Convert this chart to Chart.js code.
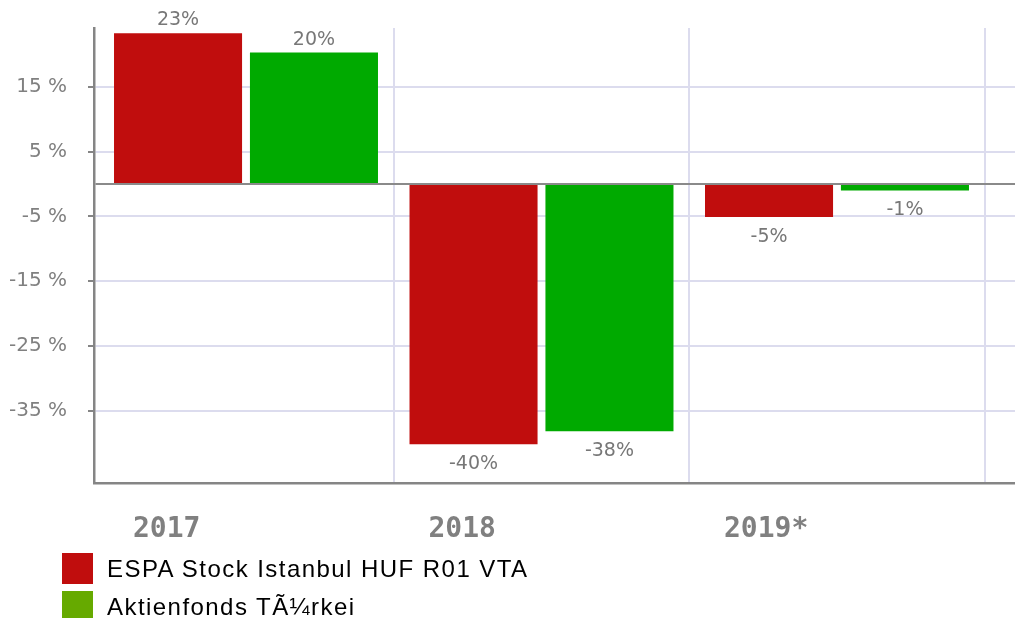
<!DOCTYPE html>
<html>
<head>
<meta charset="utf-8">
<script src="https://cdn.jsdelivr.net/npm/chart.js@4"></script>
<style>
  html, body { margin: 0; padding: 0; background: #ffffff; }
  #wrap { position: relative; width: 1015px; height: 618px; overflow: hidden; }
  #legend { position: absolute; left: 62px; top: 553px; font-family: "Liberation Sans", Arial, sans-serif; font-size: 24px; letter-spacing: 1.45px; color: #000; }
  .item { position: relative; height: 38px; }
  .box { position: absolute; left: 0; top: 0; width: 31px; height: 31px; }
  .lbl { position: absolute; left: 45px; top: 1px; line-height: 30px; white-space: nowrap; }
</style>
</head>
<body>
<div id="wrap">
  <canvas id="c" width="1015" height="618"></canvas>
  <div id="legend"></div>
</div>
<script>
const categories = ['2017', '2018', '2019*'];
const seriesNames = ['ESPA Stock Istanbul HUF R01 VTA', 'Aktienfonds T\u00C3\u00BCrkei'];
const espaValues = [23.3, -40.2, -5.1];
const turkeiValues = [20.3, -38.2, -1.0];
const yTickValues = [15, 5, -5, -15, -25, -35];
const yTickLabels = ['15 %', '5 %', '-5 %', '-15 %', '-25 %', '-35 %'];

const barColors = ['#c00d0d', '#00aa00'];
const legendColors = ['#c00d0d', '#66aa00'];

function toPoints(values) {
  return values.map((v, i) => ({ x: i, y: v }));
}

const legendEl = document.getElementById('legend');
seriesNames.forEach((name, i) => {
  const item = document.createElement('div');
  item.className = 'item';
  const box = document.createElement('div');
  box.className = 'box';
  box.style.background = legendColors[i];
  const lbl = document.createElement('div');
  lbl.className = 'lbl';
  lbl.textContent = name;
  item.appendChild(box);
  item.appendChild(lbl);
  legendEl.appendChild(item);
});

const valueLabels = {
  id: 'valueLabels',
  afterDatasetsDraw(chart) {
    const ctx = chart.ctx;
    ctx.save();
    ctx.font = '19px "DejaVu Sans", sans-serif';
    ctx.fillStyle = '#777777';
    ctx.textAlign = 'center';
    ctx.textBaseline = 'middle';
    chart.data.datasets.forEach((ds, di) => {
      const meta = chart.getDatasetMeta(di);
      meta.data.forEach((el, i) => {
        const v = ds.data[i].y;
        const txt = Math.round(v) + '%';
        const y = v >= 0 ? el.y - 13 : el.y + 20;
        ctx.fillText(txt, el.x, y);
      });
    });
    ctx.restore();
  }
};

new Chart(document.getElementById('c'), {
  type: 'bar',
  data: {
    datasets: [
      { label: seriesNames[0], data: toPoints(espaValues), backgroundColor: barColors[0], borderWidth: 0 },
      { label: seriesNames[1], data: toPoints(turkeiValues), backgroundColor: barColors[1], borderWidth: 0 }
    ]
  },
  options: {
    responsive: false,
    animation: false,
    layout: { padding: { top: 28, left: 0, right: 0, bottom: 0 } },
    categoryPercentage: 0.92,
    barPercentage: 0.942,
    plugins: {
      legend: { display: false },
      tooltip: { enabled: false }
    },
    scales: {
      x: {
        type: 'linear',
        min: -0.5144,
        max: 2.6024,
        offset: false,
        afterBuildTicks: (axis) => {
          axis.ticks = categories.map((c, i) => ({ value: i + 0.5 }));
        },
        afterFit: (axis) => {
          axis.height = 135;
          axis.paddingLeft = 0;
          axis.paddingRight = 0;
        },
        grid: {
          offset: false,
          color: '#dcdcee',
          lineWidth: 2,
          drawTicks: false
        },
        border: { color: '#858585', width: 2.5 },
        ticks: {
          autoSkip: false,
          maxRotation: 0,
          align: 'start',
          labelOffset: -260.75,
          padding: 30,
          color: '#808080',
          font: { family: '"DejaVu Sans Mono", monospace', size: 28, weight: 'bold' },
          callback: (value) => categories[Math.floor(value)] ?? ''
        }
      },
      y: {
        min: -46.2,
        max: 24.1,
        afterBuildTicks: (axis) => {
          axis.ticks = yTickValues.concat([0]).map(v => ({ value: v }));
        },
        afterFit: (axis) => {
          axis.width = 94;
          axis.paddingTop = 0;
          axis.paddingBottom = 0;
        },
        grid: {
          color: (ctx) => (ctx.tick && ctx.tick.value === 0) ? '#8a8a8a' : '#dcdcee',
          lineWidth: 2,
          tickLength: 6,
          tickColor: (ctx) => (ctx.tick && ctx.tick.value === 0) ? 'rgba(0,0,0,0)' : '#858585',
          tickWidth: 2
        },
        border: { color: '#858585', width: 2.5 },
        ticks: {
          padding: 21,
          color: '#808080',
          font: { family: '"DejaVu Sans", sans-serif', size: 20 },
          callback: (value) => {
            const idx = yTickValues.indexOf(value);
            return idx >= 0 ? yTickLabels[idx] : '';
          }
        }
      }
    }
  },
  plugins: [valueLabels]
});
</script>
</body>
</html>
